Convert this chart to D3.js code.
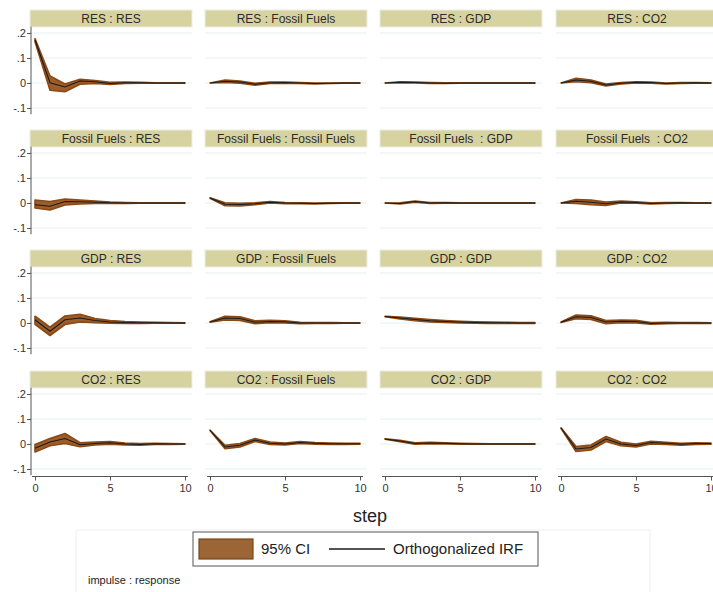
<!DOCTYPE html>
<html>
<head>
<meta charset="utf-8">
<script src="https://cdn.jsdelivr.net/npm/d3@7"></script>
<style>
  body { margin: 0; background: #fff; }
  svg { font-family: "Liberation Sans", Arial, sans-serif; }
</style>
</head>
<body>
<svg id="chart" width="713" height="592"></svg>
<script>
// steps 0..10
const steps = [0, 1, 2, 3, 4, 5, 6, 7, 8, 9, 10];
const yTicks = [0.2, 0.1, 0, -0.1];
const yTickLabels = [".2", ".1", "0", "-.1"];
const xTicks = [0, 5, 10];

// panel titles, row = impulse, column = response
const titles = [
  ["RES : RES", "RES : Fossil Fuels", "RES : GDP", "RES : CO2"],
  ["Fossil Fuels : RES", "Fossil Fuels : Fossil Fuels", "Fossil Fuels  : GDP", "Fossil Fuels  : CO2"],
  ["GDP : RES", "GDP : Fossil Fuels", "GDP : GDP", "GDP : CO2"],
  ["CO2 : RES", "CO2 : Fossil Fuels", "CO2 : GDP", "CO2 : CO2"]
];

// impulse RES -> responses RES, Fossil Fuels, GDP, CO2
const irfRES = [
  [0.172, 0.001, -0.016, 0.008, 0.005, -0.002, 0.001, 0.001, 0, 0, 0],
  [0, 0.007, 0.004, -0.005, 0.001, 0.002, 0.0, -0.002, -0.001, 0, 0],
  [0, 0.003, 0.002, 0.0, -0.001, 0, 0, 0, 0, 0, 0],
  [0, 0.012, 0.007, -0.008, -0.001, 0.003, 0.002, -0.002, 0.0, 0.001, 0]
];
const loRES = [
  [0.165, -0.029, -0.035, -0.005, -0.002, -0.006, -0.002, -0.001, -0.001, -0.001, -0.001],
  [0, 0.002, -0.001, -0.009, -0.002, -0.001, -0.002, -0.004, -0.002, -0.001, -0.001],
  [0, 0.001, 0, -0.002, -0.002, -0.001, -0.001, -0.001, -0.001, -0.001, -0.001],
  [0, 0.005, 0.001, -0.012, -0.004, 0.0, -0.001, -0.004, -0.002, -0.001, -0.001]
];
const hiRES = [
  [0.178, 0.028, -0.004, 0.015, 0.010, 0.003, 0.004, 0.003, 0.001, 0.001, 0.001],
  [0, 0.012, 0.008, -0.001, 0.004, 0.004, 0.002, 0.0, 0.0, 0.001, 0.001],
  [0, 0.005, 0.004, 0.002, 0.001, 0.001, 0.001, 0.001, 0.001, 0.001, 0.001],
  [0, 0.019, 0.012, -0.004, 0.002, 0.005, 0.004, 0.0, 0.002, 0.002, 0.001]
];

// impulse Fossil Fuels
const irfFF = [
  [-0.007, -0.013, 0.006, 0.005, 0.003, 0.001, 0, 0, 0, 0, 0],
  [0.02, -0.005, -0.006, -0.003, 0.003, 0.0, -0.001, -0.002, -0.001, 0, 0],
  [0, -0.002, 0.006, 0.0, 0.001, 0, 0, 0, 0, 0, 0],
  [0, 0.007, 0.003, -0.003, 0.004, 0.002, -0.002, 0.0, 0.001, 0, 0]
];
const loFF = [
  [-0.02, -0.028, -0.008, -0.004, -0.002, -0.002, -0.002, -0.001, -0.001, -0.001, -0.001],
  [0.019, -0.011, -0.012, -0.007, 0.0, -0.003, -0.003, -0.004, -0.002, -0.001, -0.001],
  [0, -0.004, 0.003, -0.002, -0.001, -0.001, -0.001, -0.001, -0.001, -0.001, -0.001],
  [0, -0.002, -0.007, -0.010, 0.0, -0.001, -0.004, -0.002, -0.001, -0.001, -0.001]
];
const hiFF = [
  [0.012, 0.006, 0.016, 0.012, 0.008, 0.004, 0.002, 0.001, 0.001, 0.001, 0.001],
  [0.021, 0.001, -0.001, 0.001, 0.006, 0.002, 0.001, 0.0, 0.001, 0.001, 0.001],
  [0, 0.001, 0.008, 0.002, 0.002, 0.001, 0.001, 0.001, 0.001, 0.001, 0.001],
  [0, 0.014, 0.012, 0.004, 0.008, 0.005, 0.001, 0.002, 0.002, 0.001, 0.001]
];

// impulse GDP
const irfGDP = [
  [0.013, -0.033, 0.013, 0.02, 0.01, 0.004, 0.002, 0.001, 0.001, 0, 0],
  [0.004, 0.02, 0.018, 0.003, 0.006, 0.005, 0.0, 0.0, 0.0, 0.0, 0.0],
  [0.026, 0.02, 0.014, 0.009, 0.006, 0.004, 0.002, 0.001, 0.001, 0, 0],
  [0.003, 0.025, 0.022, 0.004, 0.007, 0.006, -0.002, 0.0, 0.0, 0.0, 0.0]
];
const loGDP = [
  [-0.005, -0.05, -0.006, 0.004, 0.001, -0.001, -0.002, -0.002, -0.001, -0.001, -0.001],
  [0.003, 0.012, 0.01, -0.003, 0.001, 0.0, -0.003, -0.002, -0.002, -0.001, -0.001],
  [0.025, 0.016, 0.009, 0.004, 0.002, 0.0, -0.001, -0.002, -0.002, -0.002, -0.002],
  [0.002, 0.017, 0.014, -0.003, 0.001, 0.0, -0.005, -0.003, -0.002, -0.002, -0.002]
];
const hiGDP = [
  [0.027, -0.017, 0.028, 0.035, 0.018, 0.01, 0.006, 0.004, 0.003, 0.002, 0.001],
  [0.005, 0.027, 0.025, 0.009, 0.011, 0.009, 0.003, 0.002, 0.002, 0.001, 0.001],
  [0.027, 0.024, 0.019, 0.014, 0.010, 0.007, 0.005, 0.004, 0.003, 0.002, 0.002],
  [0.004, 0.032, 0.029, 0.01, 0.012, 0.011, 0.002, 0.003, 0.002, 0.002, 0.001]
];

// impulse CO2
const irfCO2 = [
  [-0.017, 0.008, 0.022, -0.003, 0.002, 0.005, 0.0, -0.002, 0.001, 0.0, 0.0],
  [0.055, -0.012, -0.005, 0.016, 0.003, 0.0, 0.006, 0.003, 0.001, 0.001, 0.001],
  [0.02, 0.012, 0.002, 0.004, 0.003, 0.001, 0.0, 0.0, 0.0, 0.0, 0.0],
  [0.064, -0.02, -0.014, 0.02, 0.0, -0.006, 0.006, 0.003, -0.001, 0.002, 0.002]
];
const loCO2 = [
  [-0.032, -0.007, 0.002, -0.011, -0.004, -0.001, -0.004, -0.005, -0.002, -0.002, -0.001],
  [0.054, -0.019, -0.012, 0.010, -0.002, -0.004, 0.002, -0.001, -0.002, -0.002, -0.001],
  [0.019, 0.009, -0.001, 0.001, 0.0, -0.001, -0.001, -0.001, -0.001, -0.001, -0.001],
  [0.063, -0.03, -0.024, 0.01, -0.007, -0.012, 0.0, -0.002, -0.005, -0.002, -0.001]
];
const hiCO2 = [
  [-0.002, 0.022, 0.042, 0.005, 0.008, 0.01, 0.004, 0.002, 0.003, 0.002, 0.001],
  [0.056, -0.005, 0.002, 0.022, 0.008, 0.004, 0.010, 0.006, 0.004, 0.003, 0.003],
  [0.021, 0.015, 0.005, 0.007, 0.005, 0.003, 0.002, 0.001, 0.001, 0.001, 0.001],
  [0.065, -0.01, -0.004, 0.03, 0.007, 0.0, 0.011, 0.007, 0.003, 0.005, 0.004]
];

const irfRows = [irfRES, irfFF, irfGDP, irfCO2];
const loRows = [loRES, loFF, loGDP, loCO2];
const hiRows = [hiRES, hiFF, hiGDP, hiCO2];

// layout
const colLeft = [35, 210, 385, 561];   // x of step 0
const rowTop = [33, 153, 273, 394];    // y of .2
const plotW = 150, unitPx = 75;        // 0.3 of y range = 75px
const bandFill = "#9c5d28", bandEdge = "#8a4a16";
const headerFill = "#d7d3a1", gridColor = "#e7eff1";

const svg = d3.select("#chart");

for (let r = 0; r < 4; r++) {
  for (let c = 0; c < 4; c++) {
    const x = d3.scaleLinear().domain([0, 10]).range([colLeft[c], colLeft[c] + plotW]);
    const y = d3.scaleLinear().domain([-0.1, 0.2]).range([rowTop[r] + unitPx, rowTop[r]]);
    const g = svg.append("g");
    const left = x(0) - 5, right = x(10) + 7;

    // header strip
    g.append("rect")
      .attr("x", left).attr("y", y(0.2) - 23)
      .attr("width", right - left).attr("height", 17)
      .attr("fill", headerFill).attr("stroke", "#ecece4").attr("stroke-width", 1);
    g.append("text")
      .attr("x", (left + right) / 2).attr("y", y(0.2) - 10.5)
      .attr("text-anchor", "middle")
      .style("font-size", "12px").style("fill", "#2b2b2b")
      .style("white-space", "pre")
      .text(titles[r][c]);

    // gridlines
    g.selectAll(".grid").data(yTicks).enter().append("line")
      .attr("x1", left).attr("x2", right)
      .attr("y1", d => y(d)).attr("y2", d => y(d))
      .attr("stroke", gridColor).attr("stroke-width", 1.2);

    const irf = irfRows[r][c], lo = loRows[r][c], hi = hiRows[r][c];

    const area = d3.area()
      .x((d, i) => x(steps[i]))
      .y0((d, i) => y(lo[i]))
      .y1((d, i) => y(hi[i]));
    g.append("path").datum(steps)
      .attr("d", area)
      .attr("fill", bandFill).attr("stroke", bandEdge).attr("stroke-width", 1.6)
      .attr("stroke-linejoin", "round");

    const line = d3.line()
      .x((d, i) => x(steps[i]))
      .y((d, i) => y(irf[i]));
    g.append("path").datum(steps)
      .attr("d", line)
      .attr("fill", "none").attr("stroke", "#1a1a1a").attr("stroke-width", 1.1);

    // y axis on first column
    if (c === 0) {
      const ax = g.append("g").attr("transform", `translate(${x(0) - 4},0)`)
        .call(d3.axisLeft(y).tickValues(yTicks).tickSize(4)
          .tickFormat((d, i) => yTickLabels[i]));
      ax.select(".domain").attr("d", `M0,${y(0.225)}V${y(-0.125)}`).attr("stroke", "#555");
      ax.selectAll(".tick line").attr("stroke", "#555");
      ax.selectAll("text").attr("x", -5).style("font-size", "11px").style("fill", "#333")
        .style("font-family", "Liberation Sans, Arial, sans-serif");
    }

    // x axis on bottom row
    if (r === 3) {
      const ax = g.append("g").attr("transform", `translate(0,${y(-0.13)})`)
        .call(d3.axisBottom(x).tickValues(xTicks).tickSize(4).tickFormat(d3.format("d")));
      ax.select(".domain").attr("d", `M${x(-0.2)},0H${x(10.2)}`).attr("stroke", "#555");
      ax.selectAll(".tick line").attr("stroke", "#555");
      ax.selectAll("text").attr("y", 8).style("font-size", "11px").style("fill", "#333")
        .style("font-family", "Liberation Sans, Arial, sans-serif");
    }
  }
}

// x title
svg.append("text")
  .attr("x", 370).attr("y", 522)
  .attr("text-anchor", "middle")
  .style("font-size", "18px").style("fill", "#222")
  .text("step");

// note area outline
svg.append("path")
  .attr("d", "M76,592V530H650V592")
  .attr("fill", "none").attr("stroke", "#f0f0f0").attr("stroke-width", 1);

// legend
const legend = svg.append("g").attr("transform", "translate(193,532)");
legend.append("rect")
  .attr("width", 345).attr("height", 34)
  .attr("fill", "#fff").attr("stroke", "#555").attr("stroke-width", 1);
legend.append("rect")
  .attr("x", 6).attr("y", 7).attr("width", 54).attr("height", 20)
  .attr("fill", "#9b6535").attr("stroke", "#7a4618").attr("stroke-width", 1.2);
legend.append("text")
  .attr("x", 68).attr("y", 22)
  .style("font-size", "15px").style("fill", "#222")
  .text("95% CI");
legend.append("line")
  .attr("x1", 136).attr("x2", 192).attr("y1", 17).attr("y2", 17)
  .attr("stroke", "#1a1a1a").attr("stroke-width", 1.3);
legend.append("text")
  .attr("x", 200).attr("y", 22)
  .style("font-size", "15px").style("fill", "#222")
  .text("Orthogonalized IRF");

// note
svg.append("text")
  .attr("x", 88).attr("y", 584)
  .style("font-size", "11px").style("fill", "#222")
  .text("impulse : response");
</script>
</body>
</html>
